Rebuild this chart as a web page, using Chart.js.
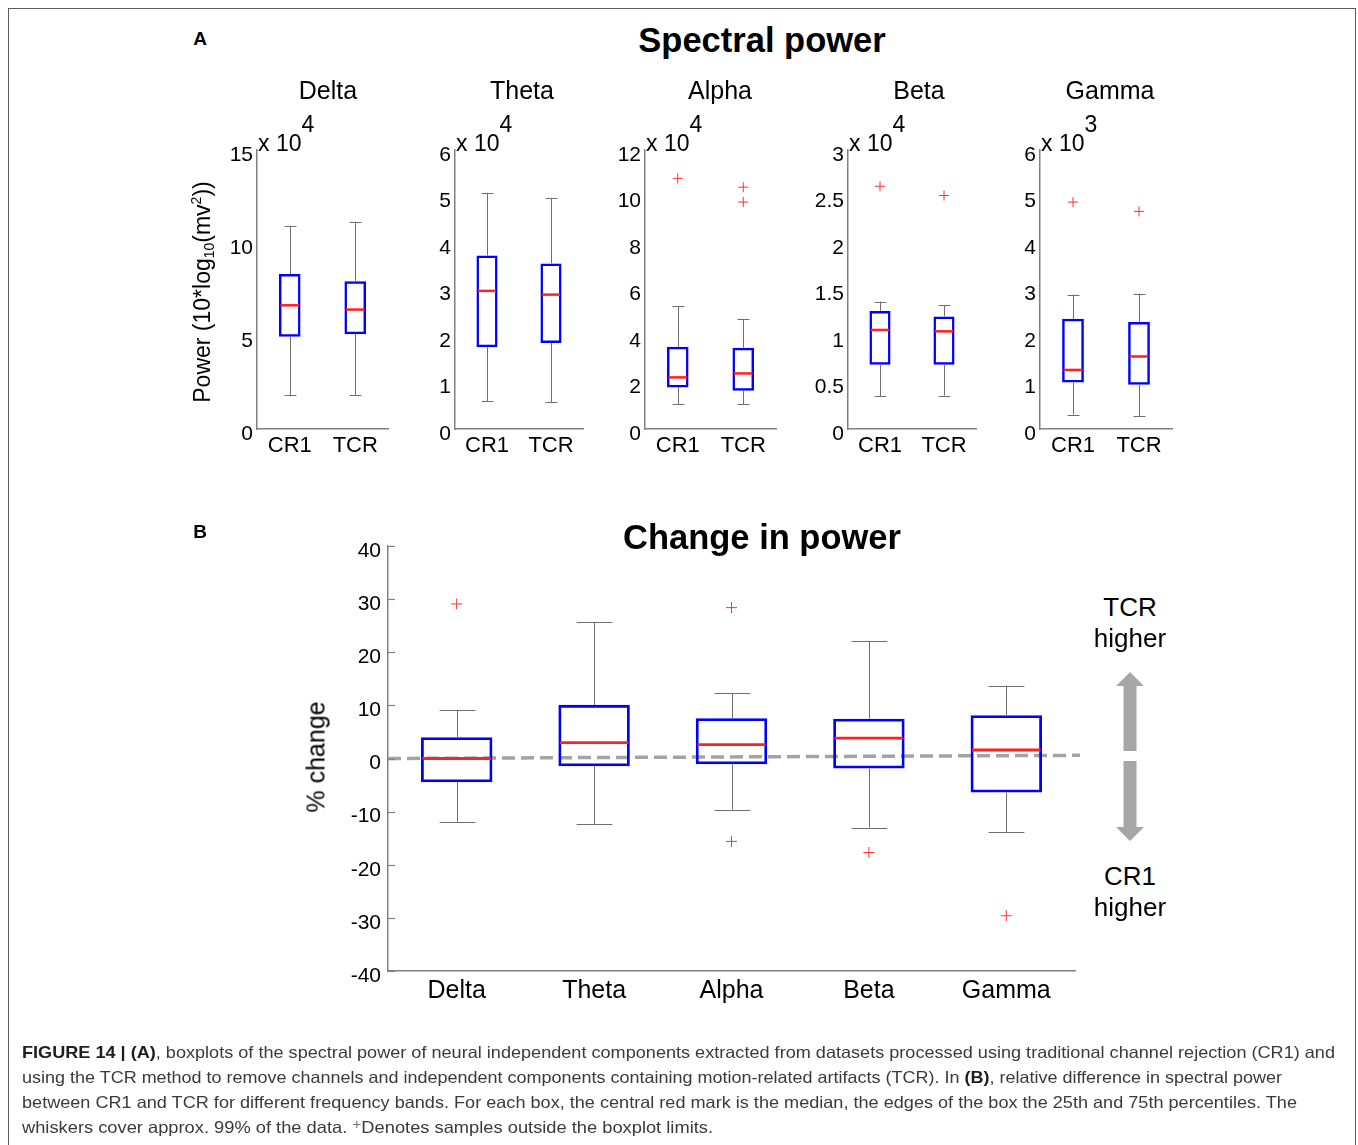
<!DOCTYPE html>
<html>
<head>
<meta charset="utf-8">
<script src="https://cdn.jsdelivr.net/npm/chart.js@4.4.1/dist/chart.umd.min.js"></script>
<style>
    body { margin: 0; background: #fff; font-family: 'Liberation Sans', Arial, sans-serif; }
    #fig { position: relative; width: 1358px; height: 1145px; overflow: hidden; background: #fff; }
    .frame { position: absolute; left: 8px; top: 8px; width: 1346px; height: 1180px; border: 1.5px solid #5c5c5c; }
    canvas { position: absolute; }
    .t { position: absolute; white-space: nowrap; transform: translate(-50%, -50%); color: #000; line-height: 1; }
    .big { font-weight: bold; font-size: 34.5px; }
    .letter { font-weight: bold; font-size: 19px; }
    .band { font-size: 25px; }
    .exp { position: absolute; white-space: nowrap; font-size: 23px; line-height: 1; }
    .exp sup { font-size: 23px; position: relative; top: -19px; vertical-align: baseline; margin-left: 0px; }
    .ylab { position: absolute; white-space: nowrap; transform: translate(-50%, -50%) rotate(-90deg); font-size: 23px; line-height: 1; }
    .ylab sub { font-size: 14px; vertical-align: baseline; position: relative; top: 4px; }
    .ylab sup { font-size: 14px; vertical-align: baseline; position: relative; top: -9px; }
    .note { font-size: 26px; }
    .cap { position: absolute; left: 22px; white-space: nowrap; font-size: 16.5px; color: #3a3a3a; transform-origin: 0 50%; line-height: 1; }
    .cap b { color: #1e1e1e; }
    .cap .plus { color: #777; font-size: 14px; position: relative; top: -4px; }
</style>
</head>
<body>
<div id="fig">
    <div class="frame"></div>

    <div class="t letter" style="left:200px; top:38px;">A</div>
    <div class="t big" style="left:762px; top:40px;">Spectral power</div>
    <div class="ylab" style="left:202px; top:292px;">Power (10*log<sub>10</sub>(mv<sup>2</sup>))</div>

    <div class="t letter" style="left:200px; top:531px;">B</div>
    <div class="t big" style="left:762px; top:537px;">Change in power</div>
    <div class="ylab" style="left:316px; top:757px; font-size:25px;">% change</div>

    <div class="t note" style="left:1130px; top:607px;">TCR</div>
    <div class="t note" style="left:1130px; top:638px;">higher</div>
    <div class="t note" style="left:1130px; top:876px;">CR1</div>
    <div class="t note" style="left:1130px; top:907px;">higher</div>
    <svg style="position:absolute; left:0; top:0;" width="1358" height="1145">
        <polygon fill="#a6a6a6" points="1130,672 1144,686 1136.5,686 1136.5,751 1123.5,751 1123.5,686 1116,686"/>
        <polygon fill="#a6a6a6" points="1123.5,761 1136.5,761 1136.5,827 1144,827 1130,841 1116,827 1123.5,827"/>
    </svg>

    <div class="cap" style="top:1044px;"><b>FIGURE 14 | (A)</b>, boxplots of the spectral power of neural independent components extracted from datasets processed using traditional channel rejection (CR1) and</div>
    <div class="cap" style="top:1069px;">using the TCR method to remove channels and independent components containing motion-related artifacts (TCR). In <b>(B)</b>, relative difference in spectral power</div>
    <div class="cap" style="top:1094px;">between CR1 and TCR for different frequency bands. For each box, the central red mark is the median, the edges of the box the 25th and 75th percentiles. The</div>
    <div class="cap" style="top:1119px;">whiskers cover approx. 99% of the data. <span class="plus">+</span>Denotes samples outside the boxplot limits.</div>
</div>

<script>
// 데이터: 주파수 대역 / 그룹
const bands = ['Delta', 'Theta', 'Alpha', 'Beta', 'Gamma'];
const groups = ['CR1', 'TCR'];

// A: 축 범위와 지수 (x 10^n)
const panelMax = [15, 6, 12, 3, 6];
const panelStep = [5, 1, 2, 0.5, 1];
const panelExp = [4, 4, 4, 4, 3];

// A: 대역별 [CR1, TCR] 박스플롯 값
const lowWhisker = [[1.81, 1.81], [0.60, 0.57], [1.07, 1.07], [0.35, 0.36], [0.31, 0.28]];
const lowerQuartile = [[4.96, 5.10], [1.76, 1.85], [1.79, 1.65], [0.69, 0.69], [1.00, 0.95]];
const medians = [[6.65, 6.42], [2.97, 2.89], [2.22, 2.39], [1.065, 1.05], [1.27, 1.56]];
const upperQuartile = [[8.33, 7.94], [3.73, 3.56], [3.54, 3.50], [1.27, 1.21], [2.37, 2.30]];
const highWhisker = [[10.9, 11.13], [5.08, 4.97], [5.28, 4.72], [1.37, 1.33], [2.89, 2.91]];
const outliers = [[[], []], [[], []], [[10.78], [10.4, 9.76]], [[2.61], [2.51]], [[4.88], [4.68]]];

// B: 변화율 (%)
const changeLow = [-11.9, -12.4, -9.6, -13.0, -13.9];
const changeQ1 = [-4.46, -1.45, -1.07, -1.9, -6.4];
const changeMedian = [0, 3.0, 2.6, 3.83, 1.6];
const changeQ3 = [4.0, 10.1, 7.6, 7.5, 8.16];
const changeHigh = [9.04, 25.7, 12.25, 22.1, 13.7];
const changeOutliers = [[29.1], [], [28.4, -15.6], [-17.7], [-29.6]];
const changeTicks = [-40, 40, 10];   // min, max, step
const zeroLine = [0, 0.6];           // 기준 점선 (왼쪽, 오른쪽 끝 값)

const FONT = "'Liberation Sans', Arial, sans-serif";
const AXIS_COLOR = '#808080';

// 수염, 중앙값, 기준선을 그리는 플러그인
function boxExtras(stats, opt) {
    return {
        id: 'boxExtras',
        beforeDatasetsDraw(chart) {
            if (!opt.refLine) return;
            const { ctx, chartArea, scales: { y } } = chart;
            ctx.save();
            ctx.strokeStyle = '#a3a3a3';
            ctx.lineWidth = 3.5;
            ctx.setLineDash([13, 6]);
            ctx.beginPath();
            ctx.moveTo(chartArea.left, y.getPixelForValue(opt.refLine[0]));
            ctx.lineTo(chartArea.right + 5, y.getPixelForValue(opt.refLine[1]));
            ctx.stroke();
            ctx.restore();
        },
        afterDatasetsDraw(chart) {
            const { ctx, chartArea, scales: { y } } = chart;
            const bars = chart.getDatasetMeta(0).data;
            ctx.save();
            // 안쪽 눈금 (B 패널)
            if (opt.innerTicks) {
                ctx.strokeStyle = AXIS_COLOR;
                ctx.lineWidth = 1.2;
                y.ticks.forEach(t => {
                    const py = Math.round(y.getPixelForValue(t.value)) + 0.5;
                    ctx.beginPath();
                    ctx.moveTo(chartArea.left, py);
                    ctx.lineTo(chartArea.left + 7, py);
                    ctx.stroke();
                });
            }
            bars.forEach((bar, i) => {
                const cx = Math.round(bar.x) + 0.5;
                const half = bar.width / 2;
                const cap = half * opt.cap;
                const pLo = y.getPixelForValue(stats.low[i]);
                const pQ1 = y.getPixelForValue(stats.q1[i]);
                const pQ3 = y.getPixelForValue(stats.q3[i]);
                const pHi = y.getPixelForValue(stats.high[i]);
                ctx.strokeStyle = '#6e6e6e';
                ctx.lineWidth = 1;
                ctx.beginPath();
                ctx.moveTo(cx, pQ3); ctx.lineTo(cx, pHi);
                ctx.moveTo(cx - cap, Math.round(pHi) + 0.5); ctx.lineTo(cx + cap, Math.round(pHi) + 0.5);
                ctx.moveTo(cx, pQ1); ctx.lineTo(cx, pLo);
                ctx.moveTo(cx - cap, Math.round(pLo) + 0.5); ctx.lineTo(cx + cap, Math.round(pLo) + 0.5);
                ctx.stroke();
                // 중앙값
                const pMed = y.getPixelForValue(stats.med[i]);
                ctx.strokeStyle = '#ff2020';
                ctx.lineWidth = opt.medWidth;
                ctx.beginPath();
                ctx.moveTo(bar.x - half + 1.5, pMed);
                ctx.lineTo(bar.x + half - 1.5, pMed);
                ctx.stroke();
            });
            ctx.restore();
        }
    };
}

function axisCommon(fontSize, pad) {
    return {
        grid: { display: false, drawTicks: false },
        border: { display: true, color: AXIS_COLOR, width: 1.5 },
        ticks: { color: '#000', font: { family: FONT, size: fontSize }, padding: pad }
    };
}

function makeCanvas(left, top, width, height) {
    const c = document.createElement('canvas');
    c.width = width;
    c.height = height;
    c.style.left = left + 'px';
    c.style.top = top + 'px';
    document.getElementById('fig').insertBefore(c, document.querySelector('.frame').nextSibling);
    return c;
}

// A 패널 배치 (축 위치)
const panelLeft = [257, 455, 645, 848, 1040];
const panelWidth = [131, 128, 131, 128, 132];
const panelTitleX = [328, 522, 720, 919, 1110];
const A_TOP = 150, A_BOTTOM = 429;
const Y_W = 60, X_H = 40, PAD_T = 20, PAD_R = 10;

bands.forEach((band, i) => {
    const canvas = makeCanvas(panelLeft[i] - Y_W, A_TOP - PAD_T, Y_W + panelWidth[i] + PAD_R, PAD_T + (A_BOTTOM - A_TOP) + X_H);
    const outlierPoints = [];
    groups.forEach((g, k) => outliers[i][k].forEach(v => outlierPoints.push({ x: g, y: v })));

    const xAxis = axisCommon(22, 4);
    xAxis.ticks.maxRotation = 0;
    xAxis.afterFit = s => { s.height = X_H; };
    const yAxis = axisCommon(21, 4);
    Object.assign(yAxis, { min: 0, max: panelMax[i] });
    yAxis.ticks.stepSize = panelStep[i];
    yAxis.ticks.labelOffset = 5;
    yAxis.ticks.callback = value => String(Number(value.toFixed(2))); // 3.0 -> 3
    yAxis.afterFit = s => { s.width = Y_W; };

    new Chart(canvas, {
        type: 'bar',
        data: {
            labels: groups,
            datasets: [
                {
                    data: groups.map((g, k) => [lowerQuartile[i][k], upperQuartile[i][k]]),
                    backgroundColor: 'rgba(0,0,0,0)',
                    borderColor: '#0000ff',
                    borderWidth: 2.5,
                    borderSkipped: false,
                    barPercentage: 0.33,
                    categoryPercentage: 1
                },
                {
                    type: 'line',
                    data: outlierPoints,
                    showLine: false,
                    pointStyle: 'cross',
                    pointRadius: 5,
                    pointBorderWidth: 1,
                    pointBorderColor: '#ff3030',
                    borderColor: '#ff3030'
                }
            ]
        },
        options: {
            responsive: false,
            animation: false,
            events: [],
            layout: { padding: { top: PAD_T, right: PAD_R, left: 0, bottom: 0 } },
            plugins: { legend: { display: false }, tooltip: { enabled: false } },
            scales: { x: xAxis, y: yAxis }
        },
        plugins: [boxExtras({
            low: lowWhisker[i], q1: lowerQuartile[i], med: medians[i], q3: upperQuartile[i], high: highWhisker[i]
        }, { cap: 0.55, medWidth: 2.5 })]
    });

    // 패널 제목과 지수 표시
    const title = document.createElement('div');
    title.className = 't band';
    title.style.left = panelTitleX[i] + 'px';
    title.style.top = '90px';
    title.textContent = band;
    document.getElementById('fig').appendChild(title);

    const exp = document.createElement('div');
    exp.className = 'exp';
    exp.style.left = (panelLeft[i] + 1) + 'px';
    exp.style.top = '132px';
    exp.innerHTML = 'x 10<sup>' + panelExp[i] + '</sup>';
    document.getElementById('fig').appendChild(exp);
});

// B 패널
(function () {
    const left = 388, right = 1075, top = 546, bottom = 971;
    const yW = 80, xH = 45, padT = 20, padR = 20;
    const canvas = makeCanvas(left - yW, top - padT, yW + (right - left) + padR, padT + (bottom - top) + xH);
    const outlierPoints = [];
    bands.forEach((b, i) => changeOutliers[i].forEach(v => outlierPoints.push({ x: b, y: v })));

    const xAxis = axisCommon(25, 5);
    xAxis.ticks.maxRotation = 0;
    xAxis.afterFit = s => { s.height = xH; };
    const yAxis = axisCommon(21, 7);
    Object.assign(yAxis, { min: changeTicks[0], max: changeTicks[1] });
    yAxis.ticks.stepSize = changeTicks[2];
    yAxis.ticks.labelOffset = 5;
    yAxis.afterFit = s => { s.width = yW; };

    new Chart(canvas, {
        type: 'bar',
        data: {
            labels: bands,
            datasets: [
                {
                    data: bands.map((b, i) => [changeQ1[i], changeQ3[i]]),
                    backgroundColor: 'rgba(0,0,0,0)',
                    borderColor: '#0000ff',
                    borderWidth: 2.8,
                    borderSkipped: false,
                    barPercentage: 0.52,
                    categoryPercentage: 1
                },
                {
                    type: 'line',
                    data: outlierPoints,
                    showLine: false,
                    pointStyle: 'cross',
                    pointRadius: 5.5,
                    pointBorderWidth: 1,
                    pointBorderColor: '#ff3030',
                    borderColor: '#ff3030'
                }
            ]
        },
        options: {
            responsive: false,
            animation: false,
            events: [],
            layout: { padding: { top: padT, right: padR, left: 0, bottom: 0 } },
            plugins: { legend: { display: false }, tooltip: { enabled: false } },
            scales: { x: xAxis, y: yAxis }
        },
        plugins: [boxExtras({
            low: changeLow, q1: changeQ1, med: changeMedian, q3: changeQ3, high: changeHigh
        }, { cap: 0.5, medWidth: 2.8, refLine: zeroLine, innerTicks: true })]
    });
})();

// 캡션 줄 너비 맞추기
const capTargets = [1313, 1260, 1275, 691];
document.querySelectorAll('.cap').forEach((el, i) => {
    const w = el.getBoundingClientRect().width;
    el.style.transform = 'scaleX(' + (capTargets[i] / w) + ')';
});
</script>
</body>
</html>
